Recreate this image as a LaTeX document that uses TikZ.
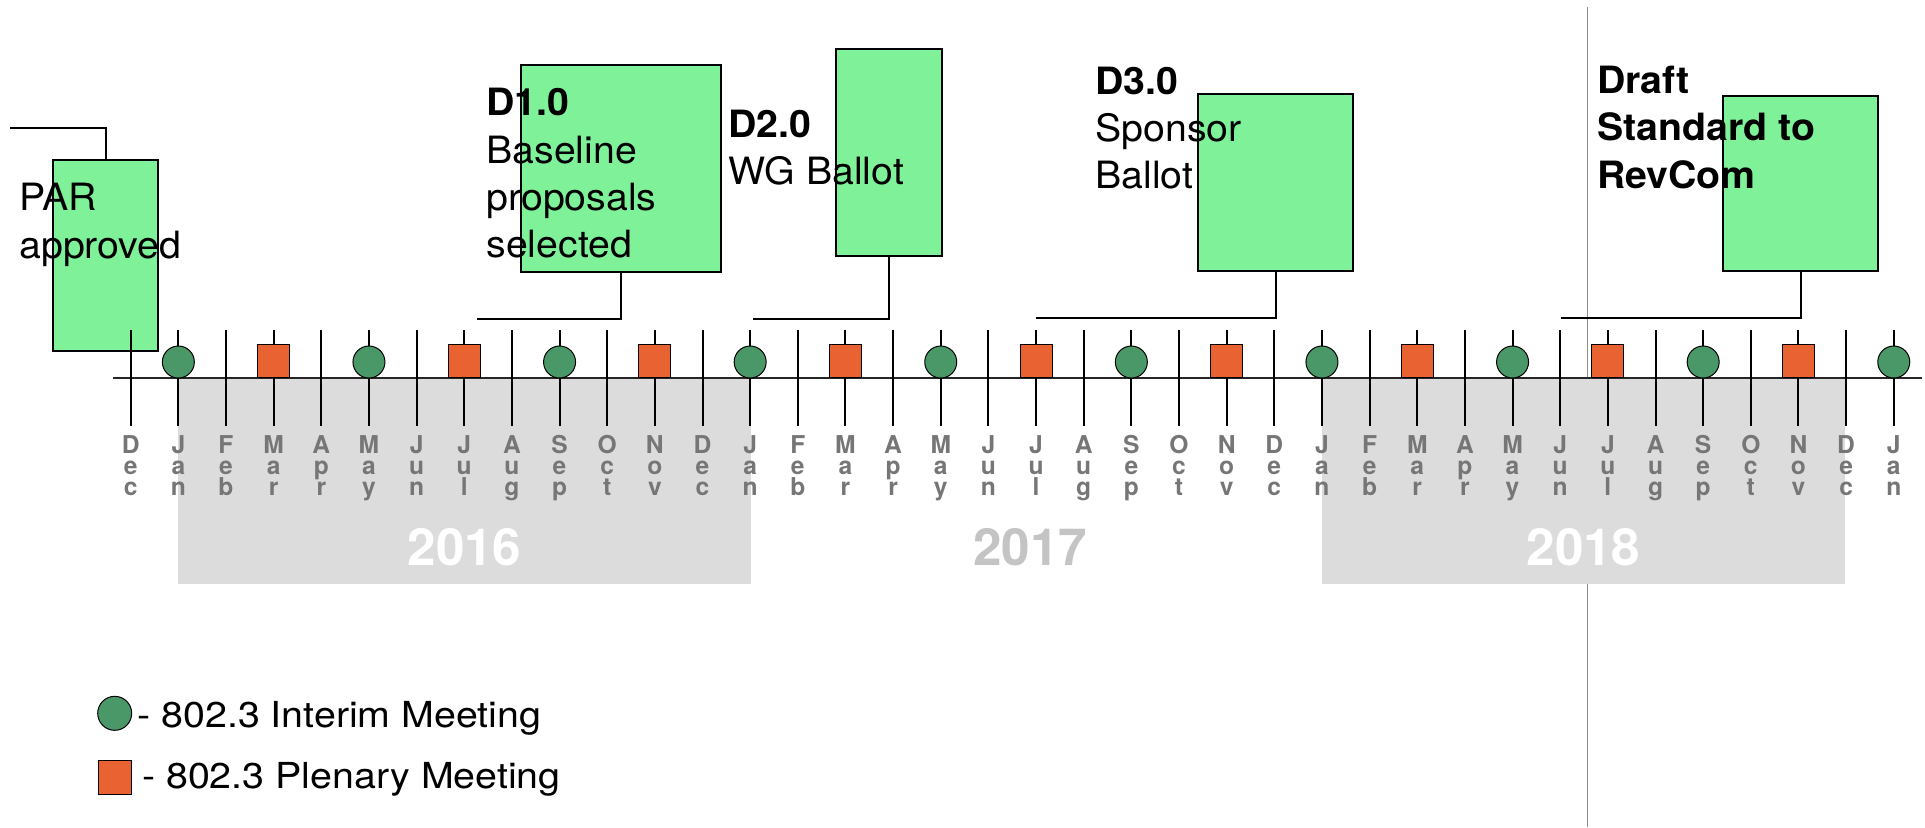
\documentclass[tikz,border=0pt]{standalone}
\usepackage{fontspec}
\setmainfont{TeX Gyre Heros}
\usepackage{xcolor}
\usepackage{tikz}
\definecolor{boxgreen}{RGB}{127, 242, 153}
\definecolor{intgreen}{RGB}{74, 152, 104}
\definecolor{plenorange}{RGB}{233, 99, 50}
\definecolor{blockgray}{RGB}{220, 220, 220}
\definecolor{monthgray}{RGB}{118, 118, 118}
\definecolor{yeargray}{RGB}{196, 196, 196}
\definecolor{nowgray}{RGB}{140, 140, 140}
\newcommand{\lblfont}{\fontsize{18.8}{23.65}\selectfont\addfontfeatures{FakeStretch=1.045}}
\newcommand{\monfont}{\fontsize{12.3}{10.5}\selectfont\bfseries\lineskiplimit=-20pt}
\newcommand{\yrfont}{\fontsize{25.6}{30}\selectfont\bfseries}
\newcommand{\legfont}{\fontsize{17.9}{21}\selectfont\addfontfeatures{FakeStretch=1.1}}

\begin{document}
\begin{tikzpicture}[x=0.5pt, y=-0.5pt,
  msbox/.style={draw=black, line width=1pt, fill=boxgreen, inner sep=0pt},
  mslabel/.style={anchor=north west, inner sep=0pt, align=left, font=\lblfont},
  link/.style={line width=1pt},
  monthtick/.style={line width=1pt},
  interim/.style={circle, draw=black, line width=0.5pt, fill=intgreen, minimum size=16pt, inner sep=0pt},
  plenary/.style={rectangle, draw=black, line width=0.5pt, fill=plenorange, minimum width=16pt, minimum height=16.5pt, inner sep=0pt},
  month/.style={anchor=north, inner sep=0pt, align=center, font=\monfont, text=monthgray},
  year/.style={inner sep=0pt, font=\yrfont},
  legtext/.style={anchor=base west, inner sep=0pt, font=\legfont}]
\useasboundingbox (0,0) rectangle (1925,827);

% Today marker (thin gray line)
\draw[nowgray, line width=0.5pt] (1587.5,7) -- (1587.5,827);

% Year blocks
\fill[blockgray] (178.4,378) rectangle (750.8,584);
\fill[blockgray] (1322,378) rectangle (1845,584);
\node[year, text=white] (y2016) at (464.5,547) {2016};
\node[year, text=yeargray] (y2017) at (1030,547) {2017};
\node[year, text=white] (y2018) at (1583.5,547) {2018};

% Milestone boxes
\node[msbox, minimum width=52.5pt, minimum height=95.5pt] (parbox) at (105.5,255.5) {};
\node[msbox, minimum width=100pt, minimum height=103.5pt] (d1box) at (621,168.5) {};
\node[msbox, minimum width=53pt, minimum height=103.5pt] (d2box) at (889,152.5) {};
\node[msbox, minimum width=77.5pt, minimum height=88.5pt] (d3box) at (1275.5,182.5) {};
\node[msbox, minimum width=77.5pt, minimum height=87.5pt] (revbox) at (1800.5,183.5) {};

% Leader lines
\coordinate (parend) at (10,128);
\coordinate (d1end) at (477,319);
\coordinate (d2end) at (753,319);
\coordinate (d3end) at (1036,317.5);
\coordinate (revend) at (1561,318);
\draw[link] (parbox.north) |- (parend);
\draw[link] (d1box.south) |- (d1end);
\draw[link] (d2box.south) |- (d2end);
\draw[link] (d3box.south) |- (d3end);
\draw[link] (revbox.south) |- (revend);

% Milestone texts
\node[mslabel] (partext) at (19,183) {PAR\\approved};
\node[mslabel] (d1text) at (486,88) {\textbf{D1.0}\\Baseline\\proposals\\selected};
\node[mslabel] (d2text) at (728,109.7) {\textbf{D2.0}\\WG Ballot};
\node[mslabel] (d3text) at (1095,66.3) {\textbf{D3.0}\\Sponsor\\Ballot};
\node[mslabel, font=\lblfont\bfseries] (revtext) at (1596.7,65.7) {Draft\\Standard to\\RevCom};

% Time axis
\draw[black!85, line width=0.65pt] (113,378) -- (1922,378);

% Month ticks and labels (Dec 2015 ... Jan 2019)
\foreach \a/\b/\c [count=\i from 0] in {D/e/c,
    J/a/n,F/e/b,M/a/r,A/p/r,M/a/y,J/u/n,J/u/l,A/u/g,S/e/p,O/c/t,N/o/v,D/e/c,
    J/a/n,F/e/b,M/a/r,A/p/r,M/a/y,J/u/n,J/u/l,A/u/g,S/e/p,O/c/t,N/o/v,D/e/c,
    J/a/n,F/e/b,M/a/r,A/p/r,M/a/y,J/u/n,J/u/l,A/u/g,S/e/p,O/c/t,N/o/v,D/e/c,
    J/a/n} {
    \pgfmathsetmacro{\x}{130.7 + 47.65*\i}
    \draw[monthtick] (\x,330) -- (\x,426);
    \node[month] (m\i) at (\x,435) {\a\\\b\\\c};
}

% Interim meetings (Jan, May, Sep)
\foreach \i in {1,5,...,37} {
    \pgfmathsetmacro{\x}{130.7 + 47.65*\i}
    \node[interim] (im\i) at (\x,362) {};
}

% Plenary meetings (Mar, Jul, Nov)
\foreach \i in {3,7,...,35} {
    \pgfmathsetmacro{\x}{130.7 + 47.65*\i}
    \node[plenary] (pl\i) at (\x,360.5) {};
}

% Legend
\node[interim, minimum size=17pt] (legint) at (114.7,713.3) {};
\node[legtext] (leginttext) at (137,727.3) {- 802.3 Interim Meeting};
\node[plenary, minimum width=16.7pt, minimum height=16.7pt] (legplen) at (115,777.3) {};
\node[legtext] (legplentext) at (141.7,788) {- 802.3 Plenary Meeting};
\end{tikzpicture}
\end{document}
